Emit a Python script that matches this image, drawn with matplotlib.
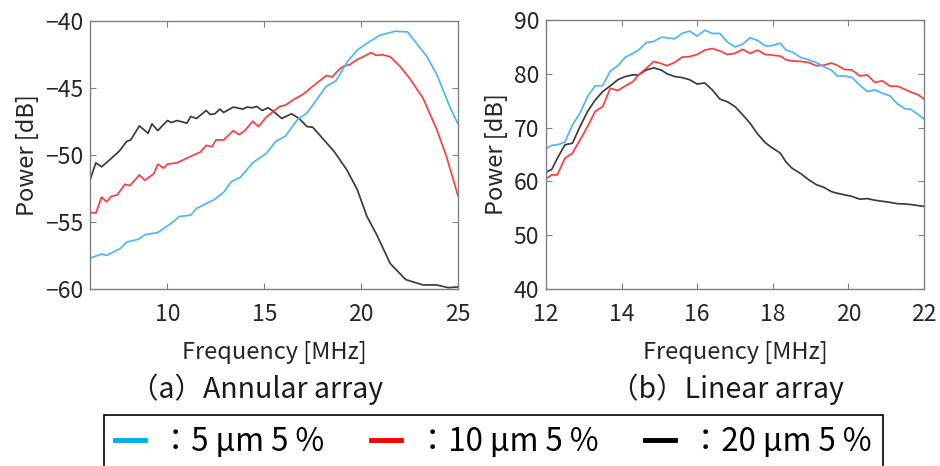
import matplotlib
matplotlib.use("Agg")
import matplotlib.pyplot as plt
from matplotlib.lines import Line2D

plt.rcParams['font.family'] = ['Noto Sans CJK JP', 'DejaVu Sans']

# ---------- (a) Annular array ----------
a_blue_f = [6, 6.6, 6.86, 7.55, 7.9, 8.5, 8.84, 9.5, 10.3, 10.6, 11.2, 11.5, 12.4, 12.9, 13.3,
            13.75, 14.4, 14.9, 15.1, 15.6, 16.1, 16.7, 17.2, 17.7, 18.2, 18.7, 19.3, 19.8, 20.3,
            20.97, 21.75, 22.4, 23.4, 23.9, 24.6, 25]
a_blue_p = [-57.7, -57.4, -57.5, -57.0, -56.5, -56.3, -55.95, -55.8, -55.0, -54.6, -54.5, -54.0,
            -53.35, -52.8, -52.0, -51.7, -50.6, -50.1, -49.9, -49.0, -48.6, -47.4, -46.9, -45.9,
            -44.9, -44.5, -43.05, -42.2, -41.7, -41.1, -40.8, -40.85, -42.7, -44.0, -46.5, -47.7]

a_red_f = [6, 6.3, 6.6, 6.86, 7.1, 7.4, 7.8, 8.07, 8.55, 8.84, 9.3, 9.5, 9.8, 10.0, 10.5, 11.0,
           11.7, 12.0, 12.3, 12.5, 12.9, 13.4, 13.7, 14.0, 14.4, 14.7, 15.1, 15.8, 16.1, 16.5,
           17.0, 17.5, 18.2, 18.5, 18.9, 19.1, 19.4, 19.8, 20.1, 20.5, 20.8, 21.1, 21.5, 22.0,
           22.5, 23.2, 23.9, 24.4, 25]
a_red_p = [-54.3, -54.35, -53.15, -53.5, -53.1, -53.0, -52.2, -52.3, -51.5, -51.9, -51.4, -50.7,
           -51.0, -50.7, -50.6, -50.25, -49.8, -49.3, -49.4, -48.9, -48.9, -48.2, -48.5, -48.2,
           -47.5, -47.9, -47.2, -46.4, -46.3, -45.9, -45.5, -44.9, -44.1, -44.2, -43.6, -43.4,
           -43.3, -42.9, -42.7, -42.4, -42.6, -42.55, -42.7, -43.4, -44.3, -45.8, -48.1, -50.1,
           -53.05]

a_black_f = [6, 6.3, 6.6, 7.0, 7.5, 7.9, 8.1, 8.55, 9.0, 9.2, 9.5, 10.0, 10.2, 10.5, 11.0, 11.2,
             11.5, 12.0, 12.2, 12.45, 12.7, 12.9, 13.4, 13.9, 14.1, 14.4, 14.6, 14.9, 15.2, 15.5,
             15.9, 16.4, 16.8, 17.2, 17.5, 17.9, 18.6, 19.25, 19.8, 20.3, 20.8, 21.5, 22.3, 23.2,
             23.9, 24.5, 25]
a_black_p = [-51.9, -50.6, -50.9, -50.4, -49.75, -49.0, -48.9, -47.85, -48.4, -47.7, -48.2,
             -47.45, -47.6, -47.45, -47.65, -47.15, -47.3, -46.7, -47.0, -46.95, -46.6, -46.85,
             -46.45, -46.6, -46.45, -46.5, -46.4, -46.7, -46.5, -46.8, -47.3, -46.95, -47.3,
             -47.9, -47.95, -48.6, -49.75, -51.1, -52.6, -54.6, -55.95, -58.1, -59.3, -59.7,
             -59.7, -59.9, -59.85]

# ---------- (b) Linear array ----------
b_f = [12.0, 12.15, 12.3, 12.5, 12.7, 12.9, 13.1, 13.3, 13.5, 13.7, 13.9, 14.1, 14.3, 14.45,
       14.65, 14.85, 15.05, 15.2, 15.4, 15.6, 15.8, 16.0, 16.2, 16.4, 16.6, 16.8, 17.0, 17.2,
       17.4, 17.6, 17.8, 17.95, 18.2, 18.35, 18.5, 18.75, 18.95, 19.15, 19.35, 19.55, 19.7,
       19.9, 20.1, 20.3, 20.5, 20.7, 20.9, 21.1, 21.3, 21.5, 21.65, 21.85, 22.0]
b_blue_p = [66.05, 66.7, 66.8, 67.3, 70.5, 72.7, 75.8, 77.75, 77.8, 80.5, 81.5, 83.1, 83.8,
            84.4, 85.8, 86.0, 86.8, 86.7, 86.5, 87.5, 87.95, 87.0, 88.1, 87.5, 87.5, 85.9, 85.0,
            85.5, 86.7, 86.2, 85.2, 85.2, 85.7, 84.4, 84.1, 83.0, 82.6, 82.1, 81.3, 80.7, 79.6,
            79.6, 79.3, 77.9, 76.7, 77.0, 76.4, 75.9, 74.4, 73.5, 73.4, 72.4, 71.6]
b_red_p = [60.5, 61.2, 61.2, 64.3, 65.25, 67.7, 70.2, 73.0, 73.9, 77.3, 76.9, 77.75, 78.55,
           79.8, 81.0, 82.3, 81.9, 81.5, 82.1, 83.1, 83.2, 83.6, 84.4, 84.7, 84.25, 83.6, 83.8,
           84.55, 83.8, 84.4, 83.6, 83.5, 83.3, 82.6, 82.4, 82.3, 82.1, 81.5, 81.6, 82.0, 81.6,
           80.8, 80.7, 79.6, 79.8, 78.4, 78.7, 77.7, 77.7, 77.1, 76.6, 76.1, 75.3]
b_black_p = [61.7, 62.2, 64.3, 66.8, 67.1, 70.2, 73.0, 75.1, 76.7, 77.75, 78.9, 79.5, 79.8,
             79.8, 80.7, 81.1, 80.7, 80.0, 79.5, 79.3, 78.9, 78.1, 78.3, 77.0, 75.3, 74.8, 73.9,
             72.4, 70.8, 68.8, 67.2, 66.4, 65.25, 63.6, 62.5, 61.4, 60.3, 59.4, 58.9, 58.1, 57.8,
             57.5, 57.2, 56.7, 56.8, 56.5, 56.3, 56.1, 55.85, 55.8, 55.7, 55.5, 55.35]

a_xticks = [10, 15, 20, 25]
a_yticks = [-60, -55, -50, -45, -40]
b_xticks = [12, 14, 16, 18, 20, 22]
b_yticks = [40, 50, 60, 70, 80, 90]

legend_labels = ['：5 µm 5 %', '：10 µm 5 %', '：20 µm 5 %']
xlabel = 'Frequency [MHz]'
ylabel = 'Power [dB]'
captions = ['（a）Annular array', '（b）Linear array']

c_blue, c_red, c_black = '#4db5ff', '#ff3b3b', '#3c3c3c'
h_blue, h_red, h_black = '#00b0f0', '#ff0000', '#000000'

fig = plt.figure(figsize=(9.4, 4.66), dpi=100)
W, H = 940, 466
axA = fig.add_axes([90 / W, 1 - 289 / H, 368 / W, 268.5 / H])
axB = fig.add_axes([546 / W, 1 - 289 / H, 378 / W, 269 / H])

lw = 1.25
axA.plot(a_black_f, a_black_p, color=c_black, lw=lw)
axA.plot(a_red_f, a_red_p, color=c_red, lw=lw)
axA.plot(a_blue_f, a_blue_p, color=c_blue, lw=lw)
axA.set_xlim(6, 25)
axA.set_ylim(-60, -40)
axA.set_xticks(a_xticks)
axA.set_yticks(a_yticks)

axB.plot(b_f, b_black_p, color=c_black, lw=lw)
axB.plot(b_f, b_red_p, color=c_red, lw=lw)
axB.plot(b_f, b_blue_p, color=c_blue, lw=lw)
axB.set_xlim(12, 22)
axB.set_ylim(40, 90)
axB.set_xticks(b_xticks)
axB.set_yticks(b_yticks)

for ax in [axA, axB]:
    for s in ax.spines.values():
        s.set_color('#808080')
        s.set_linewidth(1.0)
    ax.tick_params(direction='in', top=True, right=True, length=4, width=0.8,
                   color='#808080', labelsize=16.5, labelcolor='#262626')
    ax.tick_params(axis='x', pad=10)
    ax.tick_params(axis='y', pad=5)
    ax.set_xlabel(xlabel, fontsize=17, color='#262626', labelpad=11)
    ax.set_ylabel(ylabel, fontsize=17, color='#262626', labelpad=4)

fig.text(257 / W, 1 - 389 / H, captions[0], fontsize=20.5, ha='center', va='center', color='#1a1a1a')
fig.text(727 / W, 1 - 389 / H, captions[1], fontsize=20.5, ha='center', va='center', color='#1a1a1a')

handles = [Line2D([], [], color=h_blue, lw=3.5),
           Line2D([], [], color=h_red, lw=3.5),
           Line2D([], [], color=h_black, lw=3.5)]
leg = fig.legend(handles, legend_labels, loc='upper center', ncol=3,
                 bbox_to_anchor=(493.5 / W, 1 - 415 / H), fontsize=22.5,
                 frameon=True, fancybox=False, edgecolor='black', framealpha=1,
                 handlelength=0.95, handletextpad=0.5, columnspacing=1.5,
                 borderpad=0.35, borderaxespad=0)
leg.get_frame().set_linewidth(1.2)

fig.savefig('out.png', dpi=100)
